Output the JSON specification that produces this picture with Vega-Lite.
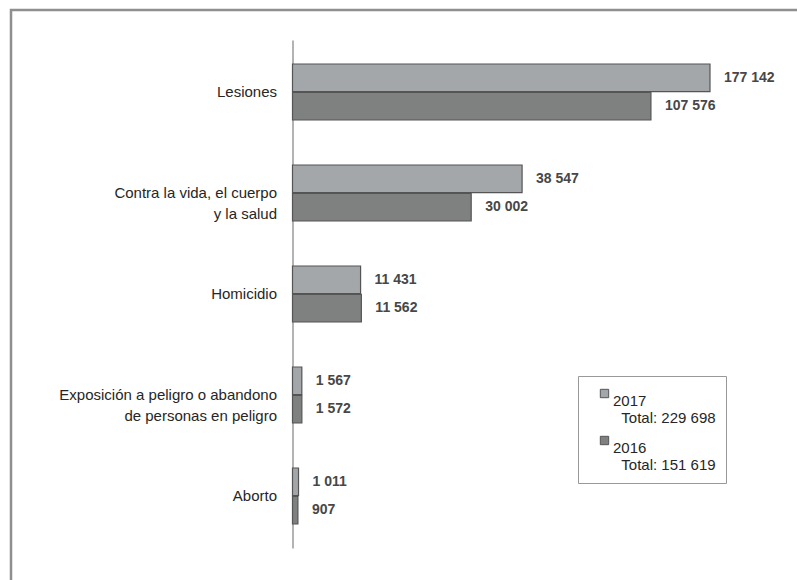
{
  "$schema": "https://vega.github.io/schema/vega-lite/v6.json",
  "width": 789,
  "height": 573,
  "autosize": {"type": "none"},
  "padding": {"left": 11, "top": 10, "right": -3, "bottom": -3},
  "background": "white",
  "data": {
    "values": [
      {"categoria": "Lesiones", "anio": "2017", "valor": 177142},
      {"categoria": "Lesiones", "anio": "2016", "valor": 107576},
      {"categoria": "Contra la vida, el cuerpo y la salud", "anio": "2017", "valor": 38547},
      {"categoria": "Contra la vida, el cuerpo y la salud", "anio": "2016", "valor": 30002},
      {"categoria": "Homicidio", "anio": "2017", "valor": 11431},
      {"categoria": "Homicidio", "anio": "2016", "valor": 11562},
      {"categoria": "Exposición a peligro o abandono de personas en peligro", "anio": "2017", "valor": 1567},
      {"categoria": "Exposición a peligro o abandono de personas en peligro", "anio": "2016", "valor": 1572},
      {"categoria": "Aborto", "anio": "2017", "valor": 1011},
      {"categoria": "Aborto", "anio": "2016", "valor": 907}
    ]
  },
  "encoding": {
    "y": {
      "field": "categoria",
      "type": "nominal",
      "sort": ["Lesiones", "Contra la vida, el cuerpo y la salud", "Homicidio", "Exposición a peligro o abandono de personas en peligro", "Aborto"],
      "scale": {"range": [30, 538], "paddingInner": 0.4455, "paddingOuter": 0.2376},
      "axis": {
        "title": null,
        "orient": "left",
        "offset": -281.5,
        "ticks": false,
        "domain": true,
        "domainColor": "#9a9a9a",
        "domainWidth": 1.5,
        "labelPadding": 16,
        "labelFont": "Liberation Sans",
        "labelFontSize": 15,
        "labelColor": "#262626",
        "labelLineHeight": 21,
        "labelLimit": 400,
        "labelExpr": "datum.value == 'Contra la vida, el cuerpo y la salud' ? ['Contra la vida, el cuerpo', 'y la salud'] : datum.value == 'Exposición a peligro o abandono de personas en peligro' ? ['Exposición a peligro o abandono', 'de personas en peligro'] : datum.value",
        "encode": {
          "labels": {
            "update": {
              "align": {"signal": "length(datum.value) > 20 ? 'center' : 'right'"},
              "dx": {"signal": "datum.value == 'Contra la vida, el cuerpo y la salud' ? -81 : datum.value == 'Exposición a peligro o abandono de personas en peligro' ? -109 : 0"}
            }
          }
        }
      }
    },
    "yOffset": {
      "field": "anio",
      "type": "nominal",
      "sort": ["2017", "2016"],
      "scale": {"paddingInner": 0.03}
    },
    "x": {
      "field": "valor",
      "type": "quantitative",
      "scale": {"domain": [-47230, 0, 52300, 177142], "range": [0, 281.5, 593, 699], "nice": false, "zero": false},
      "axis": null
    }
  },
  "layer": [
    {
      "mark": {"type": "bar", "stroke": "#555555", "strokeWidth": 1.2},
      "encoding": {
        "x2": {"datum": 0},
        "color": {
          "field": "anio",
          "type": "nominal",
          "sort": ["2017", "2016"],
          "scale": {"domain": ["2017", "2016"], "range": ["#a4a7aa", "#7e817f"]},
          "legend": {
            "title": null,
            "orient": "none",
            "legendX": 567,
            "legendY": 366,
            "direction": "vertical",
            "symbolType": "square",
            "symbolSize": 70,
            "symbolStrokeColor": "#555555",
            "symbolStrokeWidth": 1,
            "symbolOffset": 9,
            "labelOffset": 1,
            "labelFont": "Liberation Sans",
            "labelFontSize": 15,
            "labelLineHeight": 22,
            "labelColor": "#262626",
            "labelBaseline": "top",
            "labelExpr": "datum.label == '2017' ? ['2017', '\u200b\u00a0\u00a0Total: 229 698'] : ['2016', '\u200b\u00a0\u00a0Total: 151 619']",
            "strokeColor": "#999999",
            "padding": 10,
            "rowPadding": 7
          }
        }
      }
    },
    {
      "mark": {"type": "text", "align": "left", "baseline": "middle", "dx": 14, "font": "Liberation Sans", "fontSize": 14, "fontWeight": "bold", "color": "#474747"},
      "encoding": {
        "text": {"field": "valor", "type": "quantitative", "format": ",d"}
      }
    }
  ],
  "config": {
    "locale": {"number": {"decimal": ",", "thousands": " ", "grouping": [3], "currency": ["$", ""]}},
    "view": {"stroke": "#8f8f8f", "strokeWidth": 2.5},
    "font": "Liberation Sans"
  }
}
